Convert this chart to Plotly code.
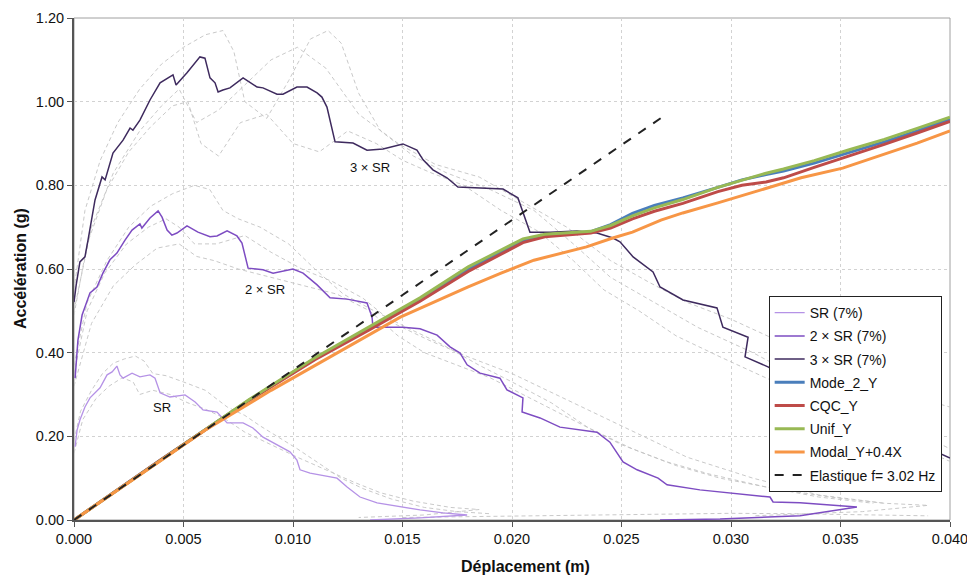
import plotly.graph_objects as go

# ---------------- data ----------------
sr_x = [0.00005, 0.00014, 0.00027, 0.0005, 0.00073, 0.00119, 0.00151, 0.00174, 0.00196, 0.0021, 0.00224,
        0.00265, 0.00301, 0.00347, 0.0037, 0.00393, 0.00438, 0.00507, 0.00553, 0.00589, 0.00653, 0.00699,
        0.00772, 0.00817, 0.00863, 0.00941, 0.00986, 0.01018, 0.01032, 0.01078, 0.01201, 0.01247, 0.01306,
        0.01384, 0.01502, 0.0158, 0.01685, 0.01795, 0.0158, 0.01352]
sr_y = [0.175, 0.215, 0.239, 0.27, 0.292, 0.316, 0.347, 0.354, 0.368, 0.347, 0.339,
        0.351, 0.342, 0.347, 0.339, 0.304, 0.294, 0.299, 0.282, 0.263, 0.258, 0.232,
        0.232, 0.22, 0.198, 0.175, 0.163, 0.143, 0.12, 0.112, 0.1, 0.079, 0.055,
        0.041, 0.031, 0.024, 0.017, 0.012, 0.005, 0.0]

sr2_x = [0.00005, 0.00018, 0.00037, 0.00073, 0.00105, 0.00132, 0.00164, 0.00196, 0.00233, 0.00265, 0.00301,
         0.0031, 0.00347, 0.00384, 0.00402, 0.00425, 0.00447, 0.0047, 0.00516, 0.00566, 0.00621, 0.00653,
         0.00699, 0.00744, 0.00767, 0.00795, 0.00863, 0.00909, 0.0100, 0.01046, 0.0111, 0.01169, 0.01247,
         0.01338, 0.01361, 0.01365, 0.01502, 0.0158, 0.01658, 0.01717, 0.01763, 0.01795, 0.01854, 0.01945,
         0.01977, 0.0205, 0.02046, 0.02128, 0.02219, 0.02388, 0.02447, 0.02507, 0.02571, 0.02667, 0.02708,
         0.02858, 0.03178, 0.03192, 0.03315, 0.03575, 0.03315, 0.0295, 0.02676]
sr2_y = [0.339, 0.43, 0.49, 0.543, 0.557, 0.59, 0.622, 0.638, 0.669, 0.693, 0.708,
         0.698, 0.722, 0.739, 0.724, 0.693, 0.681, 0.686, 0.703, 0.688, 0.677, 0.679,
         0.691, 0.679, 0.662, 0.602, 0.598, 0.59, 0.6, 0.59, 0.562, 0.531, 0.528,
         0.519, 0.485, 0.461, 0.461, 0.457, 0.442, 0.414, 0.399, 0.371, 0.351, 0.339,
         0.311, 0.292, 0.258, 0.244, 0.222, 0.21, 0.186, 0.139, 0.12, 0.1, 0.084,
         0.072, 0.055, 0.043, 0.041, 0.031, 0.01, 0.0024, 0.0]

sr3_x = [0.0, 0.0001, 0.00027, 0.0005, 0.00064, 0.00096, 0.00128, 0.00142, 0.00178, 0.00224, 0.00256,
         0.00269, 0.00301, 0.00347, 0.00393, 0.00438, 0.00452, 0.00466, 0.00516, 0.00575, 0.00598, 0.00621,
         0.00644, 0.00658, 0.0068, 0.00712, 0.00772, 0.00836, 0.00863, 0.00927, 0.00954, 0.01018, 0.01064,
         0.0111, 0.01132, 0.01155, 0.01192, 0.01274, 0.01338, 0.01411, 0.01502, 0.01566, 0.01594, 0.01639,
         0.01703, 0.01753, 0.01959, 0.02027, 0.02046, 0.02082, 0.02174, 0.02297, 0.02388, 0.02461, 0.02493,
         0.02553, 0.02644, 0.02676, 0.02781, 0.02936, 0.02963, 0.03078, 0.03064, 0.03169, 0.03315, 0.03543,
         0.03772, 0.0400]
sr3_y = [0.521, 0.562, 0.617, 0.629, 0.669, 0.765, 0.82, 0.813, 0.877, 0.908, 0.937,
         0.932, 0.956, 1.004, 1.045, 1.059, 1.064, 1.04, 1.069, 1.107, 1.104, 1.057,
         1.045, 1.023, 1.028, 1.033, 1.057, 1.035, 1.033, 1.018, 1.018, 1.035, 1.035,
         1.021, 1.011, 0.987, 0.904, 0.901, 0.884, 0.887, 0.899, 0.884, 0.861, 0.837,
         0.818, 0.796, 0.791, 0.770, 0.741, 0.688, 0.688, 0.691, 0.686, 0.674, 0.665,
         0.629, 0.593, 0.557, 0.526, 0.507, 0.461, 0.437, 0.39, 0.366, 0.323, 0.263,
         0.203, 0.148]

# individual accelerogram spectra shown as grey dashes
g1_x = [0.0, 0.0003, 0.0008, 0.0013, 0.0018, 0.0023, 0.0028, 0.0032, 0.0036, 0.0042, 0.005, 0.006, 0.007,
        0.0078, 0.0085, 0.0093, 0.0102, 0.0112, 0.0122, 0.0132, 0.0145, 0.016, 0.0175, 0.019]
g1_y = [0.19, 0.26, 0.31, 0.35, 0.375, 0.385, 0.392, 0.38, 0.35, 0.345, 0.33, 0.31, 0.27,
        0.25, 0.225, 0.2, 0.17, 0.135, 0.1, 0.075, 0.05, 0.03, 0.02, 0.015]
g2_x = [0.0, 0.0004, 0.001, 0.0016, 0.0022, 0.0027, 0.003, 0.0036, 0.0044, 0.0052, 0.006, 0.0068, 0.0078,
        0.009, 0.0102, 0.0115, 0.0128, 0.014, 0.0155, 0.0172, 0.0185, 0.016, 0.013]
g2_y = [0.16, 0.24, 0.29, 0.32, 0.34, 0.33, 0.3, 0.31, 0.3, 0.28, 0.265, 0.245, 0.21,
        0.18, 0.15, 0.12, 0.09, 0.065, 0.045, 0.03, 0.025, 0.012, 0.006]
g3_x = [0.0, 0.0006, 0.0015, 0.0025, 0.0035, 0.0045, 0.0055, 0.0062, 0.0068, 0.0075, 0.0085, 0.0098, 0.011,
        0.0123, 0.0137, 0.0152, 0.0168, 0.0185, 0.02, 0.0218, 0.0235, 0.0255, 0.0275, 0.0295, 0.032,
        0.0345, 0.037, 0.039, 0.036, 0.031]
g3_y = [0.37, 0.52, 0.62, 0.7, 0.75, 0.78, 0.8, 0.79, 0.74, 0.72, 0.7, 0.66, 0.6,
        0.54, 0.5, 0.46, 0.42, 0.37, 0.33, 0.28, 0.22, 0.17, 0.13, 0.1, 0.075,
        0.055, 0.04, 0.035, 0.02, 0.01]
g4_x = [0.0, 0.0008, 0.0018, 0.0028, 0.0038, 0.0048, 0.0056, 0.0064, 0.0075, 0.009, 0.0105, 0.012, 0.0135,
        0.0148, 0.016, 0.0175, 0.019, 0.0205, 0.022, 0.0235, 0.025, 0.027, 0.029, 0.0315, 0.034, 0.0365]
g4_y = [0.32, 0.47, 0.56, 0.61, 0.65, 0.66, 0.63, 0.62, 0.6, 0.58, 0.56, 0.54, 0.5,
        0.44, 0.4, 0.37, 0.34, 0.3, 0.26, 0.22, 0.18, 0.14, 0.11, 0.08, 0.055, 0.04]
g5_x = [0.0, 0.0005, 0.0012, 0.002, 0.003, 0.004, 0.005, 0.006, 0.0068, 0.0073, 0.0078, 0.0088, 0.0098,
        0.0108, 0.0116, 0.0122, 0.013, 0.014, 0.0155, 0.017, 0.019, 0.021, 0.0228, 0.0245, 0.0265,
        0.0285, 0.031, 0.0335, 0.036, 0.0385, 0.040]
g5_y = [0.55, 0.74, 0.86, 0.95, 1.03, 1.09, 1.13, 1.16, 1.17, 1.12, 1.0, 0.96, 1.05,
        1.15, 1.17, 1.14, 1.02, 0.93, 0.87, 0.83, 0.79, 0.74, 0.66, 0.58, 0.52,
        0.46, 0.4, 0.33, 0.27, 0.21, 0.17]
g6_x = [0.0, 0.0006, 0.0015, 0.0025, 0.0035, 0.0045, 0.0052, 0.0058, 0.0066, 0.0076, 0.0088, 0.01, 0.0112,
        0.0125, 0.0138, 0.015, 0.0163, 0.0178, 0.0195, 0.0212, 0.0228, 0.0242, 0.0258, 0.0275, 0.0295,
        0.032, 0.0345, 0.037, 0.040]
g6_y = [0.49, 0.66, 0.79, 0.88, 0.94, 0.99, 1.0, 0.9, 0.87, 0.95, 0.97, 0.9, 0.88,
        0.93, 0.9, 0.86, 0.83, 0.8, 0.74, 0.69, 0.62, 0.55, 0.5, 0.44, 0.39,
        0.33, 0.27, 0.21, 0.14]
g7_x = [0.0, 0.0008, 0.0018, 0.003, 0.004, 0.0048, 0.0056, 0.0066, 0.0078, 0.009, 0.0102, 0.0115, 0.013,
        0.0148, 0.0165, 0.0185, 0.0205, 0.0225, 0.0245, 0.0262, 0.028, 0.03, 0.0325, 0.035, 0.038, 0.040]
g7_y = [0.5, 0.7, 0.83, 0.93, 0.99, 1.03, 0.95, 0.98, 1.04, 1.1, 1.13, 1.08, 0.97,
        0.9, 0.85, 0.82, 0.76, 0.7, 0.62, 0.57, 0.52, 0.48, 0.42, 0.36, 0.3, 0.27]
g8_x = [0.015, 0.018, 0.021, 0.024, 0.027, 0.030, 0.033, 0.036, 0.039]
g8_y = [0.006, 0.008, 0.01, 0.012, 0.014, 0.016, 0.015, 0.012, 0.01]
g9_x = [0.0, 0.0006, 0.0014, 0.0024, 0.0034, 0.0042, 0.0048, 0.0055, 0.0065, 0.0078, 0.009, 0.0104, 0.0118,
        0.0132, 0.0146, 0.0162, 0.018, 0.02, 0.022, 0.024, 0.026, 0.028, 0.031, 0.034, 0.037]
g9_y = [0.35, 0.5, 0.59, 0.66, 0.7, 0.72, 0.7, 0.66, 0.66, 0.68, 0.64, 0.6, 0.57,
        0.53, 0.47, 0.43, 0.39, 0.35, 0.3, 0.25, 0.2, 0.15, 0.1, 0.06, 0.04]

# pushover capacity curves
disp_cap = [0, 0.004, 0.008, 0.011, 0.0135, 0.0158, 0.018, 0.0195, 0.0205, 0.0215, 0.0236, 0.0245,
            0.0255, 0.0265, 0.0278, 0.0294, 0.0305, 0.0316, 0.0324, 0.0338, 0.0354, 0.037, 0.0385, 0.040]
acc_mode2 = [0, 0.145, 0.287, 0.386, 0.459, 0.528, 0.6, 0.641, 0.668, 0.68, 0.689, 0.706,
             0.733, 0.752, 0.77, 0.795, 0.813, 0.826, 0.834, 0.853, 0.878, 0.904, 0.93, 0.958]
acc_cqc = [0, 0.145, 0.286, 0.383, 0.455, 0.523, 0.594, 0.636, 0.663, 0.677, 0.686, 0.698,
           0.72, 0.738, 0.757, 0.785, 0.8, 0.808, 0.818, 0.843, 0.87, 0.898, 0.925, 0.953]
acc_unif = [0, 0.145, 0.288, 0.388, 0.462, 0.531, 0.605, 0.646, 0.672, 0.683, 0.69, 0.704,
            0.727, 0.746, 0.766, 0.795, 0.812, 0.829, 0.839, 0.859, 0.885, 0.91, 0.936, 0.963]
disp_modal = [0, 0.006, 0.009, 0.012, 0.0149, 0.018, 0.0195, 0.021, 0.0225, 0.0234, 0.0246, 0.0255,
              0.0268, 0.0278, 0.0294, 0.0309, 0.0332, 0.0351, 0.0369, 0.0385, 0.040]
acc_modal = [0, 0.215, 0.31, 0.4, 0.485, 0.557, 0.59, 0.621, 0.641, 0.653, 0.674, 0.688,
             0.717, 0.734, 0.758, 0.782, 0.818, 0.841, 0.873, 0.901, 0.93]

elas_x = [0.0, 0.027]
elas_y = [0.0, 0.968]

names = ["SR (7%)", "2 × SR (7%)", "3 × SR (7%)", "Mode_2_Y", "CQC_Y", "Unif_Y",
         "Modal_Y+0.4X", "Elastique f= 3.02 Hz"]

# ---------------- figure ----------------
fig = go.Figure()

grey = "rgba(195,195,195,0.9)"
for gx, gy in [(g1_x, g1_y), (g2_x, g2_y), (g3_x, g3_y), (g4_x, g4_y), (g5_x, g5_y),
               (g6_x, g6_y), (g7_x, g7_y), (g8_x, g8_y), (g9_x, g9_y)]:
    fig.add_trace(go.Scatter(x=gx, y=gy, mode="lines", showlegend=False, hoverinfo="skip",
                             line=dict(color=grey, width=1, dash="4px,3px")))

series = [
    (sr_x, sr_y, names[0], "#b592e6", 1.3, None),
    (sr2_x, sr2_y, names[1], "#7d4cc2", 1.5, None),
    (sr3_x, sr3_y, names[2], "#3e2a5e", 1.5, None),
    (disp_cap, acc_mode2, names[3], "#4a7ebb", 3, None),
    (disp_cap, acc_cqc, names[4], "#be4b48", 3, None),
    (disp_cap, acc_unif, names[5], "#98b954", 3, None),
    (disp_modal, acc_modal, names[6], "#f79646", 3, None),
    (elas_x, elas_y, names[7], "#222222", 2, "dash"),
]
for i, (sx, sy, nm, col, w, dash) in enumerate(series):
    fig.add_trace(go.Scatter(x=sx, y=sy, mode="lines", name=nm, legendgroup=f"g{i}",
                             line=dict(color=col, width=w, dash=dash)))

for txt, ax_, ay_ in [("3 × SR", 0.01352, 0.842), ("2 × SR", 0.00872, 0.55), ("SR", 0.00402, 0.268)]:
    fig.add_annotation(x=ax_, y=ay_, text=txt, showarrow=False,
                       font=dict(family="Liberation Sans, Arial", size=13, color="#111111"))

title_font = dict(family="Liberation Sans Narrow, Arial Narrow, Liberation Sans, Arial", size=16, color="#111111")
fig.add_annotation(xref="paper", yref="paper", x=0.515, y=-0.092, text="<b>Déplacement (m)</b>",
                   showarrow=False, font=title_font, xanchor="center", yanchor="middle")
fig.add_annotation(xref="paper", yref="paper", x=-0.0616, y=0.50, text="<b>Accélération (g)</b>",
                   showarrow=False, font=title_font, textangle=-90, xanchor="center", yanchor="middle")

# plot-area frame (thin grey top/right)
fig.add_shape(type="rect", xref="x domain", yref="y domain", x0=0, y0=0, x1=1, y1=1,
              line=dict(color="#a0a0a0", width=1), layer="below")

# the page adds an 8 px body margin, so the margins are offset by 8 px
fig.update_layout(
    width=975, height=579,
    margin=dict(l=66, r=33, t=10, b=67, autoexpand=False),
    paper_bgcolor="white", plot_bgcolor="white",
    font=dict(family="Liberation Sans, Arial", size=12, color="#111111"),
    legend=dict(x=0.793, y=0.446, xanchor="left", yanchor="top",
                bgcolor="white", bordercolor="#222222", borderwidth=1,
                font=dict(size=14), traceorder="grouped", tracegroupgap=2),
    xaxis=dict(range=[0, 0.040], dtick=0.005, tickformat=".3f", automargin=False,
               showgrid=True, gridcolor="#d2d2d2", griddash="3px,3px", gridwidth=1,
               zeroline=False, showline=True, linecolor="#555555", linewidth=2,
               ticks="outside", ticklen=5, tickcolor="#555555",
               tickfont=dict(size=14.5)),
    yaxis=dict(range=[0, 1.20], dtick=0.2, tickformat=".2f", automargin=False,
               showgrid=True, gridcolor="#d2d2d2", griddash="3px,3px", gridwidth=1,
               zeroline=False, showline=True, linecolor="#555555", linewidth=2,
               ticks="outside", ticklen=5, tickcolor="#555555",
               tickfont=dict(size=14.5)),
)

fig.write_html("out.html")
